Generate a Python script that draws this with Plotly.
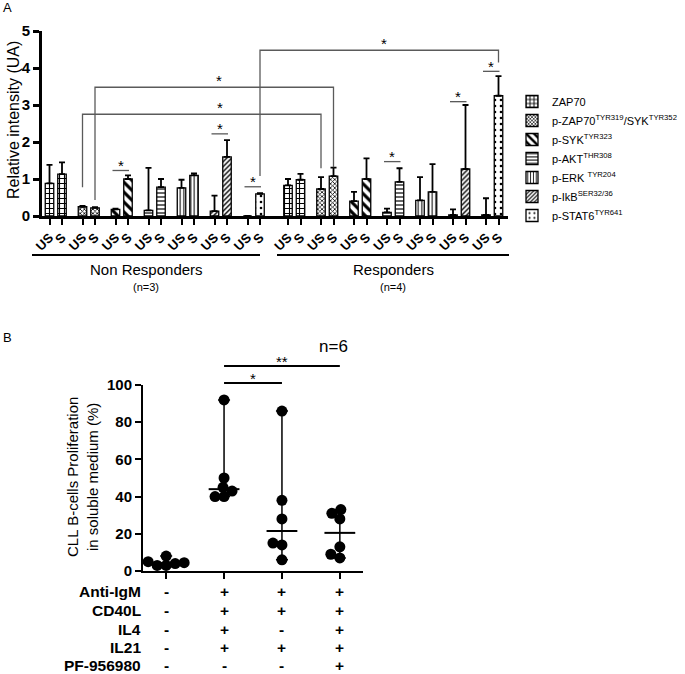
import numpy as np
import plotly.graph_objects as go

FONT = "Liberation Sans, Arial, sans-serif"
W, H = 685, 674

# ---------------- Panel A data ----------------
markers = ["ZAP70",
           "p-ZAP70<sup>TYR319</sup>/SYK<sup>TYR352</sup>",
           "p-SYK<sup>TYR323</sup>",
           "p-AKT<sup>THR308</sup>",
           "p-ERK <sup>TYR204</sup>",
           "p-IkB<sup>SER32/36</sup>",
           "p-STAT6<sup>TYR641</sup>"]
nr_us_mean = [0.88, 0.25, 0.18, 0.15, 0.76, 0.13, 0.00]
nr_us_sd   = [0.50, 0.02, 0.02, 1.15, 0.22, 0.42, 0.00]
nr_s_mean  = [1.13, 0.22, 1.00, 0.78, 1.10, 1.60, 0.60]
nr_s_sd    = [0.32, 0.02, 0.10, 0.22, 0.05, 0.45, 0.02]
r_us_mean  = [0.83, 0.73, 0.40, 0.10, 0.42, 0.03, 0.03]
r_us_sd    = [0.17, 0.32, 0.25, 0.10, 0.63, 0.15, 0.45]
r_s_mean   = [0.98, 1.08, 1.00, 0.92, 0.65, 1.27, 3.25]
r_s_sd     = [0.16, 0.23, 0.56, 0.37, 0.75, 1.73, 0.53]
cond_labels = ["US", "S"]
group_labels = ["Non Responders", "Responders"]
group_n = ["(n=3)", "(n=4)"]

# significance (short bars): group, marker index, bar level
short_group = ["NR", "NR", "NR", "R", "R", "R"]
short_marker = [2, 5, 6, 3, 5, 6]
short_level = [1.23, 2.22, 0.79, 1.47, 3.09, 3.91]
# long brackets: (marker, condition) pairs NR->R with levels
long_marker = [1, 1, 6]
long_cond = [0, 1, 1]
long_left = [0.78, 0.43, 1.08]
long_top = [2.75, 3.48, 4.48]
long_right = [1.29, 1.32, 4.15]
long_star_frac = [0.575, 0.52, 0.52]

# ---------------- Panel B data ----------------
prolif = [[3, 3, 4, 4.5, 5, 8],
          [40, 40, 43, 45, 50, 92],
          [6, 14, 15, 28, 38, 86],
          [7, 9, 13, 28, 31, 33]]
cond_rows = ["Anti-IgM", "CD40L", "IL4", "IL21", "PF-956980"]
cond_table = [["-", "+", "+", "+"],
              ["-", "+", "+", "+"],
              ["-", "+", "-", "+"],
              ["-", "+", "+", "+"],
              ["-", "-", "-", "+"]]

# ---------------- layout constants ----------------
NR0, R0, STEP, WITHIN, BARW = 49.5, 288.0, 33.0, 12.5, 8.5
XA_RANGE = [42, 508]

def xpos(group, i, c):
    return (NR0 if group == "NR" else R0) + i * STEP + c * WITHIN

patterns = [dict(shape="+", size=5, solidity=0.4),
            dict(shape="x", size=3, solidity=0.45),
            dict(shape="\\", size=7, solidity=0.45),
            dict(shape="-", size=4, solidity=0.3),
            dict(shape="|", size=3.5, solidity=0.3),
            dict(shape="/", size=3.5, solidity=0.4),
            dict(shape=".", size=6, solidity=0.15)]

fig = go.Figure()

for i, name in enumerate(markers):
    xs = [xpos("NR", i, 0), xpos("NR", i, 1), xpos("R", i, 0), xpos("R", i, 1)]
    ys = [nr_us_mean[i], nr_s_mean[i], r_us_mean[i], r_s_mean[i]]
    es = [nr_us_sd[i], nr_s_sd[i], r_us_sd[i], r_s_sd[i]]
    p = patterns[i]
    fig.add_trace(go.Bar(
        x=xs, y=ys, width=BARW, name=name, xaxis="x", yaxis="y",
        marker=dict(color="white", line=dict(color="black", width=1.3),
                    pattern=dict(shape=p["shape"], size=p["size"], solidity=p["solidity"],
                                 fgcolor="black", bgcolor="white", fillmode="replace")),
        error_y=dict(type="data", symmetric=False, array=es, arrayminus=[0] * 4,
                     color="black", thickness=1.8, width=3),
        showlegend=True))

shapes = []
annots = []
GRAY = "#5a5a5a"


def ann(**kw):
    kw.setdefault("showarrow", False)
    kw.setdefault("xanchor", "center")
    kw.setdefault("yanchor", "middle")
    kw.setdefault("borderpad", 0)
    annots.append(kw)


# short significance bars
for g, m, lv in zip(short_group, short_marker, short_level):
    x0 = xpos(g, m, 0) - 3
    x1 = xpos(g, m, 1) + 1
    shapes.append(dict(type="line", xref="x", yref="y", x0=x0, x1=x1, y0=lv, y1=lv,
                       line=dict(color=GRAY, width=1.3)))
    ann(x=(x0 + x1) / 2, y=lv, xref="x", yref="y", text="*", yshift=5,
        font=dict(size=15, color="black", family=FONT))
# long brackets
for m, c, yl, yt, yr, fr in zip(long_marker, long_cond, long_left, long_top, long_right, long_star_frac):
    xl = xpos("NR", m, c)
    xr = xpos("R", m, c)
    shapes.append(dict(type="path", xref="x", yref="y",
                       path=f"M {xl} {yl} L {xl} {yt} L {xr} {yt} L {xr} {yr}",
                       line=dict(color=GRAY, width=1.3)))
    ann(x=xl + fr * (xr - xl), y=yt, xref="x", yref="y", text="*", yshift=7,
        font=dict(size=15, color="black", family=FONT))

# group lines under panel A
grp_px = [(32, 260), (277, 509)]
for (a, b), lab, n in zip(grp_px, group_labels, group_n):
    shapes.append(dict(type="line", xref="paper", yref="paper", x0=a / W, x1=b / W,
                       y0=1 - 255 / H, y1=1 - 255 / H, line=dict(color="black", width=2)))
    ann(x=(a + b) / 2 / W, y=1 - 270 / H, xref="paper", yref="paper", text=lab,
        font=dict(size=15, color="black", family=FONT))
    ann(x=(a + b) / 2 / W, y=1 - 287 / H, xref="paper", yref="paper", text=n,
        font=dict(size=11, color="black", family=FONT))

ann(x=13 / W, y=1 - 120 / H, xref="paper", yref="paper", text="Relative intensity (UA)",
    textangle=-90, font=dict(size=16, color="black", family=FONT))
ann(x=7 / W, y=1 - 8 / H, xref="paper", yref="paper", text="A",
    font=dict(size=13, color="black", family=FONT))
ann(x=7 / W, y=1 - 337 / H, xref="paper", yref="paper", text="B",
    font=dict(size=13, color="black", family=FONT))

# ---------------- Panel B ----------------
XB_DOM = [143 / W, 363 / W]
YB_DOM = [1 - 571 / H, 1 - 385 / H]
XB_RANGE = [-0.4, 3.4]
YB_RANGE = [0, 100]
px_x = (XB_DOM[1] - XB_DOM[0]) * W / (XB_RANGE[1] - XB_RANGE[0])
px_y = (YB_DOM[1] - YB_DOM[0]) * H / (YB_RANGE[1] - YB_RANGE[0])
MIN_SEP = 9.0  # px: dots may overlap partially, as in a Prism scatter-dot plot


def beeswarm(vals):
    order = np.argsort(vals)
    placed = []
    offs = [0.0] * len(vals)
    last = 1
    for k in order:
        vy = vals[k] * px_y
        cands = [0.0]
        for d in np.arange(1, 40, 1.0):
            cands += [-last * d, last * d]
        for dx in cands:
            ok = all((dx - px) ** 2 + (vy - py) ** 2 >= MIN_SEP ** 2 for px, py in placed)
            if ok:
                break
        placed.append((dx, vy))
        offs[k] = dx / px_x
        if dx != 0:
            last = 1 if dx < 0 else -1
    return offs


for gi, vals in enumerate(prolif):
    offs = beeswarm(vals)
    fig.add_trace(go.Scatter(x=[gi + o for o in offs], y=vals, mode="markers", xaxis="x2", yaxis="y2",
                             marker=dict(color="black", size=11), cliponaxis=False, showlegend=False))
    med = float(np.median(vals))
    fig.add_trace(go.Scatter(x=[gi], y=[med], mode="markers", xaxis="x2", yaxis="y2",
                             marker=dict(symbol="line-ew", size=22, line=dict(color="black", width=2)),
                             error_y=dict(type="data", symmetric=False, array=[max(vals) - med],
                                          arrayminus=[med - min(vals)], color="black", thickness=1.5, width=6),
                             cliponaxis=False, showlegend=False))

# significance in panel B
sigB_from = [1, 1]
sigB_to = [2, 3]
sigB_text = ["*", "**"]
sigB_ypx = [383, 366]
for a, b, t, ypx in zip(sigB_from, sigB_to, sigB_text, sigB_ypx):
    shapes.append(dict(type="line", xref="x2", yref="paper", x0=a, x1=b, y0=1 - ypx / H, y1=1 - ypx / H,
                       line=dict(color="black", width=2)))
    ann(x=(a + b) / 2, y=1 - ypx / H, xref="x2", yref="paper", text=t, yshift=5,
        font=dict(size=15, color="black", family=FONT))
ann(x=333 / W, y=1 - 347 / H, xref="paper", yref="paper", text="n=6",
    font=dict(size=17, color="black", family=FONT))
ann(x=83 / W, y=1 - 477 / H, xref="paper", yref="paper",
    text="CLL B-cells Proliferation<br>in soluble medium (%)", textangle=-90,
    font=dict(size=15, color="black", family=FONT))

row_ypx = [591, 610, 629, 647, 665]
for lab, ypx, signs in zip(cond_rows, row_ypx, cond_table):
    ann(x=142 / W, y=1 - ypx / H, xref="paper", yref="paper", text=lab, xanchor="right",
        font=dict(size=15.5, color="black", family=FONT, weight="bold"))
    for ci, s in enumerate(signs):
        ann(x=ci, y=1 - ypx / H, xref="x2", yref="paper", text=s,
            font=dict(size=15.5, color="black", family=FONT, weight="bold"))

fig.update_layout(
    width=W, height=H, autosize=False,
    margin=dict(l=0, r=0, t=0, b=0, pad=0, autoexpand=False),
    paper_bgcolor="white", plot_bgcolor="white",
    font=dict(family=FONT, color="black"),
    barmode="overlay",
    xaxis=dict(domain=[XA_RANGE[0] / W, XA_RANGE[1] / W], range=XA_RANGE, anchor="y",
               showline=True, linewidth=3, linecolor="black", showgrid=False, zeroline=False,
               ticks="outside", ticklen=6, tickwidth=2, tickcolor="black",
               tickvals=[xpos(g, i, c) for g in ["NR", "R"] for i in range(7) for c in (0, 1)],
               ticktext=[cond_labels[c] for g in ["NR", "R"] for i in range(7) for c in (0, 1)],
               tickangle=-45, tickfont=dict(size=13, family=FONT, weight="bold", color="black")),
    yaxis=dict(domain=[1 - 216 / H, 1 - 31 / H], range=[0, 5], anchor="x",
               showline=True, linewidth=3, linecolor="black", showgrid=False, zeroline=False,
               ticks="outside", ticklen=6, tickwidth=3, tickcolor="black", tickvals=[0, 1, 2, 3, 4, 5],
               tickfont=dict(size=15, family=FONT, weight="bold", color="black")),
    xaxis2=dict(domain=XB_DOM, range=XB_RANGE, anchor="y2", showline=True, linewidth=2, linecolor="black",
                showgrid=False, zeroline=False, ticks="outside", ticklen=6, tickwidth=2, tickcolor="black",
                tickvals=[0, 1, 2, 3], showticklabels=False),
    yaxis2=dict(domain=YB_DOM, range=YB_RANGE, anchor="x2", showline=True, linewidth=2, linecolor="black",
                showgrid=False, zeroline=False, ticks="outside", ticklen=6, tickwidth=2, tickcolor="black",
                tickvals=[0, 20, 40, 60, 80, 100],
                tickfont=dict(size=15, family=FONT, weight="bold", color="black")),
    legend=dict(x=512 / W, y=1 - 87 / H, xanchor="left", yanchor="top", bgcolor="rgba(0,0,0,0)",
                font=dict(size=11, family=FONT, color="black"), tracegroupgap=0),
    shapes=shapes, annotations=annots,
)

fig.write_html("out.html", config={"displayModeBar": False},
               post_script="document.body.style.margin='0';document.body.style.padding='0';")
